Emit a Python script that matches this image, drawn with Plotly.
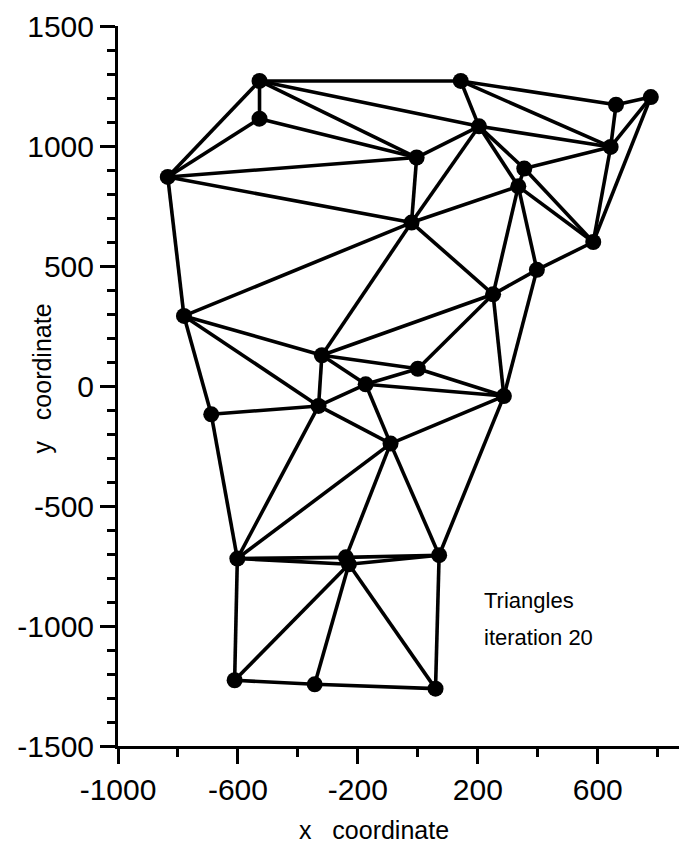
import plotly.graph_objects as go

# Node coordinates
node_x = [-528, -528, -834, -4, -21, 143, 204, 661, 777, 643,
          355, 335, 585, 397, -780, -320, 0, -174, -331, -689,
          -91, 251, 287, -602, -240, -230, 71, -611, -344, 59]
node_y = [1271, 1114, 871, 952, 681, 1271, 1082, 1172, 1204, 996,
          906, 832, 600, 484, 292, 128, 72, 7, -83, -118,
          -240, 382, -42, -719, -714, -743, -705, -1226, -1243, -1261]

# Triangle edges (pairs of node indices)
edge_a = [0, 0, 0, 0, 0, 1, 1, 2, 2, 2, 3, 3, 4, 4, 4, 4, 4, 5, 5, 5,
          6, 6, 6, 7, 7, 8, 8, 9, 9, 10, 10, 11, 11, 11, 12, 13, 13,
          14, 14, 14, 15, 15, 15, 15, 16, 16, 16, 17, 17, 17, 18, 18, 18,
          19, 20, 20, 20, 20, 21, 22, 23, 23, 23, 24, 24, 25, 25, 25, 25,
          26, 27, 28]
edge_b = [1, 2, 3, 5, 6, 2, 3, 3, 4, 14, 4, 6, 6, 11, 21, 14, 15, 6, 7, 9,
          9, 10, 11, 8, 9, 9, 12, 10, 12, 11, 12, 12, 13, 21, 13, 21, 22,
          15, 18, 19, 16, 17, 18, 21, 17, 21, 22, 18, 20, 22, 19, 20, 23,
          23, 23, 24, 26, 22, 22, 26, 24, 25, 27, 25, 26, 26, 27, 28, 29,
          29, 28, 29]

x_tick_vals = [-1000, -600, -200, 200, 600]
y_tick_vals = [-1500, -1000, -500, 0, 500, 1000, 1500]

ex, ey = [], []
for a, b in zip(edge_a, edge_b):
    ex += [node_x[a], node_x[b], None]
    ey += [node_y[a], node_y[b], None]

fig = go.Figure()
fig.add_trace(go.Scatter(x=ex, y=ey, mode="lines",
                         line=dict(color="black", width=3.6),
                         hoverinfo="skip", showlegend=False))
fig.add_trace(go.Scatter(x=node_x, y=node_y, mode="markers",
                         marker=dict(color="black", size=16),
                         showlegend=False))

font_family = "Liberation Sans, Arial, Helvetica, sans-serif"

fig.update_layout(
    width=679, height=843,
    margin=dict(l=118, r=0, t=26, b=97),
    paper_bgcolor="white", plot_bgcolor="white",
    font=dict(family=font_family, color="black"),
    xaxis=dict(range=[-1000, 871], tickvals=x_tick_vals,
               ticktext=[str(v) for v in x_tick_vals],
               ticks="outside", ticklen=15, tickwidth=2.5, tickcolor="black",
               showline=True, linewidth=3, linecolor="black",
               showgrid=False, zeroline=False,
               tickfont=dict(size=30, family=font_family),
               minor=dict(dtick=200, tick0=-1000, ticks="outside", ticklen=8,
                          tickwidth=2.5, tickcolor="black", showgrid=False)),
    yaxis=dict(range=[-1500, 1500], tickvals=y_tick_vals,
               ticktext=[str(v) for v in y_tick_vals],
               ticks="outside", ticklen=15, tickwidth=2.5, tickcolor="black",
               showline=True, linewidth=3, linecolor="black",
               showgrid=False, zeroline=False,
               tickfont=dict(size=30, family=font_family),
               minor=dict(dtick=100, tick0=-1500, ticks="outside", ticklen=8,
                          tickwidth=2.5, tickcolor="black", showgrid=False)),
    annotations=[
        dict(text="x\u00a0\u00a0\u00a0coordinate", xref="paper", yref="paper",
             x=0.457, y=-0.116, xanchor="center", yanchor="middle",
             showarrow=False, font=dict(size=25, family=font_family)),
        dict(text="y\u00a0\u00a0\u00a0coordinate", xref="paper", yref="paper",
             x=-0.136, y=0.51, xanchor="center", yanchor="middle",
             textangle=-90, showarrow=False,
             font=dict(size=25, family=font_family)),
        dict(text="Triangles", xref="paper", yref="paper",
             x=(482 - 118) / 561, y=(745.7 - 600) / 720,
             xanchor="left", yanchor="middle", showarrow=False,
             font=dict(size=22, family=font_family)),
        dict(text="iteration 20", xref="paper", yref="paper",
             x=(482 - 118) / 561, y=(745.7 - 637) / 720,
             xanchor="left", yanchor="middle", showarrow=False,
             font=dict(size=22, family=font_family)),
    ],
)

fig.write_html("out.html")
